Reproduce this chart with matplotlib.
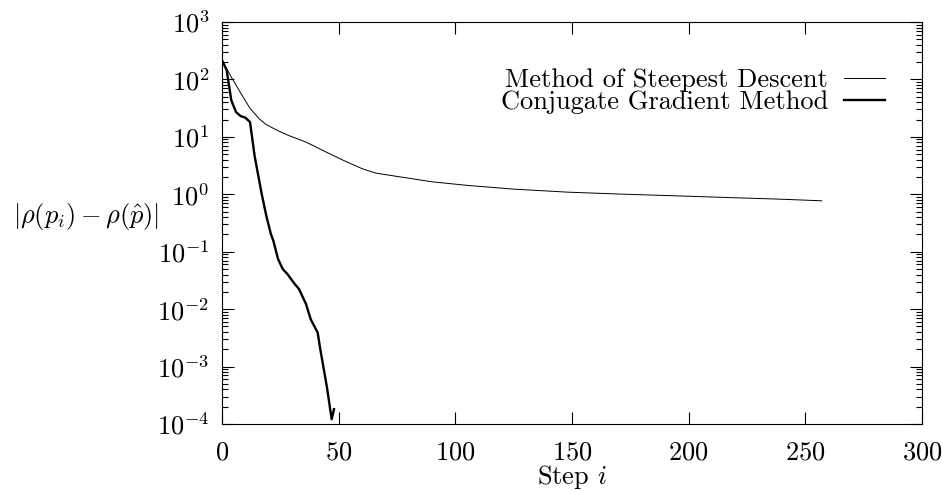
import matplotlib
matplotlib.use("Agg")
import matplotlib.pyplot as plt
from matplotlib.ticker import LogLocator, NullFormatter

# values
sd_steps = [0, 4, 8, 12, 16, 19, 24, 28, 36, 44, 52, 60, 66, 77, 90, 105, 125, 148, 170, 191, 220, 240, 257]
sd_error = [216, 110, 58, 31.4, 20.5, 16.3, 12.8, 10.8, 8.1, 5.6, 3.9, 2.8, 2.33, 1.99, 1.65, 1.43, 1.23, 1.09, 1.01, 0.95,
            0.87, 0.82, 0.77]

cg_steps = [0, 2, 4, 6, 8, 10, 12, 14, 17, 19, 21, 22, 24, 26, 28, 31, 33, 36, 38, 41, 42, 45, 47, 48]
cg_error = [216, 145, 43, 27, 23, 21.6, 18.1, 4.6, 1.02, 0.42, 0.2, 0.156, 0.075, 0.05, 0.041, 0.028, 0.0224, 0.0123,
            0.0067, 0.0039, 0.00215, 0.00043, 0.000121, 0.000181]

labels = ["Method of Steepest Descent", "Conjugate Gradient Method"]
x_ticks = [0, 50, 100, 150, 200, 250, 300]
y_ticks = [1e-4, 1e-3, 1e-2, 1e-1, 1e0, 1e1, 1e2, 1e3]

plt.rcParams["font.family"] = "cmr10"
plt.rcParams["mathtext.fontset"] = "cm"
plt.rcParams["axes.unicode_minus"] = False
plt.rcParams["axes.formatter.use_mathtext"] = True
plt.rcParams["font.size"] = 19

fig = plt.figure(figsize=(9.42, 4.91), dpi=100)
ax = fig.add_axes([222 / 942, 1 - 424 / 491, 700 / 942, 402 / 491])

ax.plot(sd_steps, sd_error, color="black", lw=0.7, label=labels[0])
ax.plot(cg_steps, cg_error, color="black", lw=1.7, label=labels[1])

ax.set_yscale("log")
ax.set_xlim(0, 300)
ax.set_ylim(1e-4, 1e3)
ax.set_xticks(x_ticks)
ax.set_yticks(y_ticks)
ax.yaxis.set_minor_locator(LogLocator(base=10, subs=range(2, 10), numticks=20))
ax.yaxis.set_minor_formatter(NullFormatter())

ax.tick_params(which="both", direction="in", top=True, right=True, width=0.8)
ax.tick_params(which="major", length=8.5)
ax.tick_params(which="minor", length=4.5)
ax.tick_params(axis="x", which="major", pad=12)
ax.tick_params(axis="y", which="major", pad=9)
for s in ax.spines.values():
    s.set_linewidth(0.8)

ax.set_xlabel(r"Step $i$")
ax.xaxis.set_label_coords(0.5, -0.098)
ax.set_ylabel(r"$|\rho(p_i) - \rho(\hat{p})|$", rotation=0, ha="right", va="center")
ax.yaxis.set_label_coords(-0.09, 0.515)

ax.legend(loc="upper right", bbox_to_anchor=(0.947, 0.885), frameon=False, markerfirst=False,
          handlelength=1.55, handletextpad=0.6, labelspacing=-0.05, borderpad=0, borderaxespad=0)

fig.savefig("out.png", dpi=100)
